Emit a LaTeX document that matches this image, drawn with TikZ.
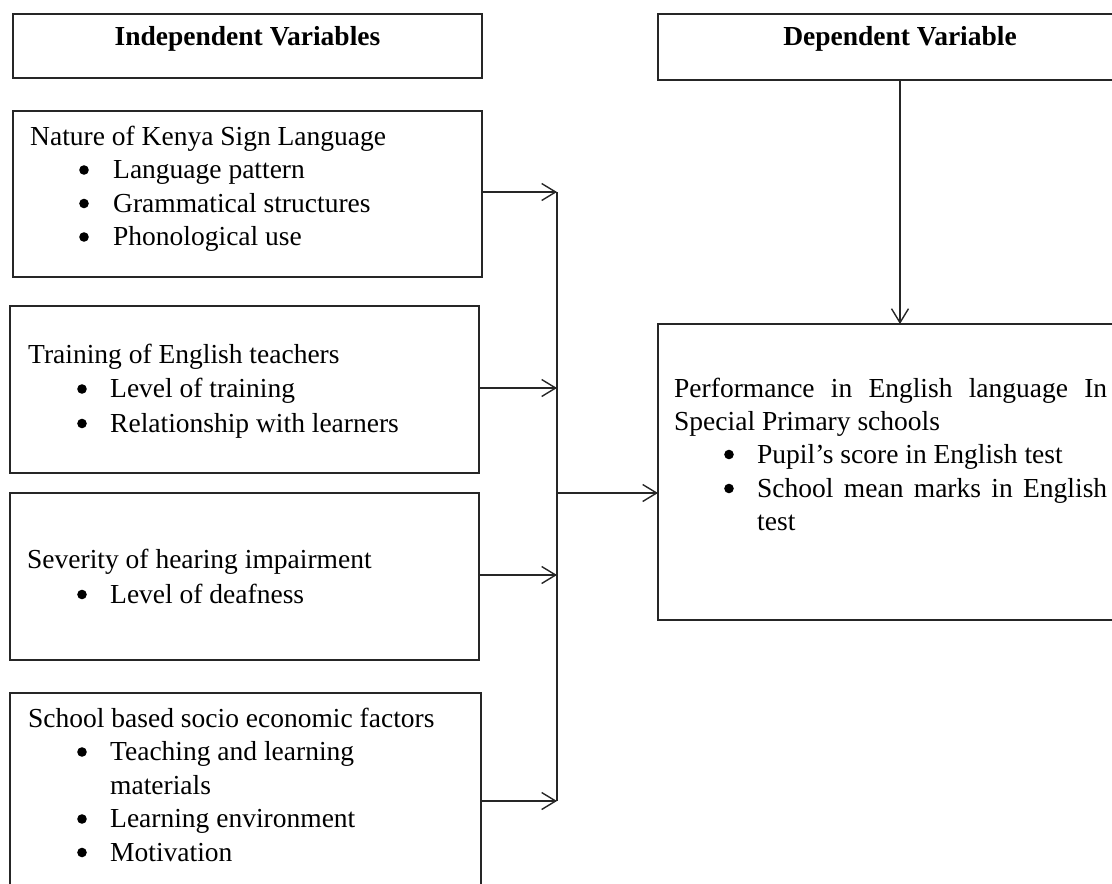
\documentclass[tikz,border=0pt]{standalone}
\usepackage{fontspec}
\setmainfont{Liberation Serif}
\usetikzlibrary{arrows.meta}
\begin{document}
\begin{tikzpicture}[x=1pt,y=-1pt,
  box/.style={draw=black!85, line width=1.6pt, inner sep=0pt, outer sep=0pt, anchor=north west},
  conn/.style={draw=black!85, line width=1.4pt},
  arr/.style={conn, -{Straight Barb[length=14pt,width=17pt,line width=1.4pt]}},
  txt/.style={anchor=base west, inner sep=0pt, font=\fontsize{27.5}{33}\selectfont},
  hdr/.style={anchor=base, inner sep=0pt, font=\fontsize{27.5}{33}\selectfont\bfseries},
  dot/.style={fill=black}]
\useasboundingbox (0,0) rectangle (1112,884);
\clip (0,0) rectangle (1112,884);
% boxes
\node[box, minimum width=469pt, minimum height=64pt]  (iv)   at (13,14)  {};
\node[box, minimum width=484pt, minimum height=66pt]  (dv)   at (658,14) {};
\node[box, minimum width=469pt, minimum height=166pt] (b1)   at (13,111) {};
\node[box, minimum width=469pt, minimum height=167pt] (b2)   at (10,306) {};
\node[box, minimum width=469pt, minimum height=167pt] (b3)   at (10,493) {};
\node[box, minimum width=471pt, minimum height=216pt] (b4)   at (10,693) {};
\node[box, minimum width=484pt, minimum height=296pt] (perf) at (658,324) {};
% headers
\node[hdr] (ivt) at (247.5,45) {Independent Variables};
\node[hdr] (dvt) at (900,45) {Dependent Variable};
% box 1
\node[txt] (t1)  at (30,145)   {Nature of Kenya Sign Language};
\node[txt] (t1a) at (113,178.5) {Language pattern};
\node[txt] (t1b) at (113,212)   {Grammatical structures};
\node[txt] (t1c) at (113,245.5) {Phonological use};
\foreach \y in {178.5,212,245.5} \fill[dot] (84,\y-8.5) circle (4.8pt);
% box 2
\node[txt] (t2)  at (28,363)   {Training of English teachers};
\node[txt] (t2a) at (110,397.5) {Level of training};
\node[txt] (t2b) at (110,432)   {Relationship with learners};
\foreach \y in {397.5,432} \fill[dot] (82,\y-8.5) circle (4.8pt);
% box 3
\node[txt] (t3)  at (27,568)   {Severity of hearing impairment};
\node[txt] (t3a) at (110,603)  {Level of deafness};
\fill[dot] (82,603-8.5) circle (4.8pt);
% box 4
\node[txt] (t4)  at (28,727)   {School based socio economic factors};
\node[txt] (t4a) at (110,760.5) {Teaching and learning};
\node[txt] (t4b) at (110,794)   {materials};
\node[txt] (t4c) at (110,827.5) {Learning environment};
\node[txt] (t4d) at (110,861)   {Motivation};
\foreach \y in {760.5,827.5,861} \fill[dot] (82,\y-8.5) circle (4.8pt);
% performance box
\node[txt] (p1) at (674,397) {\makebox[433pt][s]{Performance in English language In}};
\node[txt] (p2) at (674,430) {Special Primary schools};
\node[txt] (p3) at (757,463) {Pupil’s score in English test};
\node[txt] (p4) at (757,497) {\makebox[350pt][s]{School mean marks in English}};
\node[txt] (p5) at (757,530) {test};
\foreach \y in {463,497} \fill[dot] (729,\y-8.5) circle (4.8pt);
% connectors
\coordinate (j1) at (557,192);
\coordinate (j2) at (557,388);
\coordinate (j3) at (557,575);
\coordinate (j4) at (557,801);
\coordinate (jm) at (557,493);
\draw[arr] (j1 -| b1.east) -- (j1);
\draw[arr] (j2 -| b2.east) -- (j2);
\draw[arr] (j3 -| b3.east) -- (j3);
\draw[arr] (j4 -| b4.east) -- (j4);
\draw[conn] (j1) -- (j4);
\draw[arr] (jm) -- (jm -| perf.west);
\draw[arr] (dv.south) -- (perf.north);
\end{tikzpicture}
\end{document}
